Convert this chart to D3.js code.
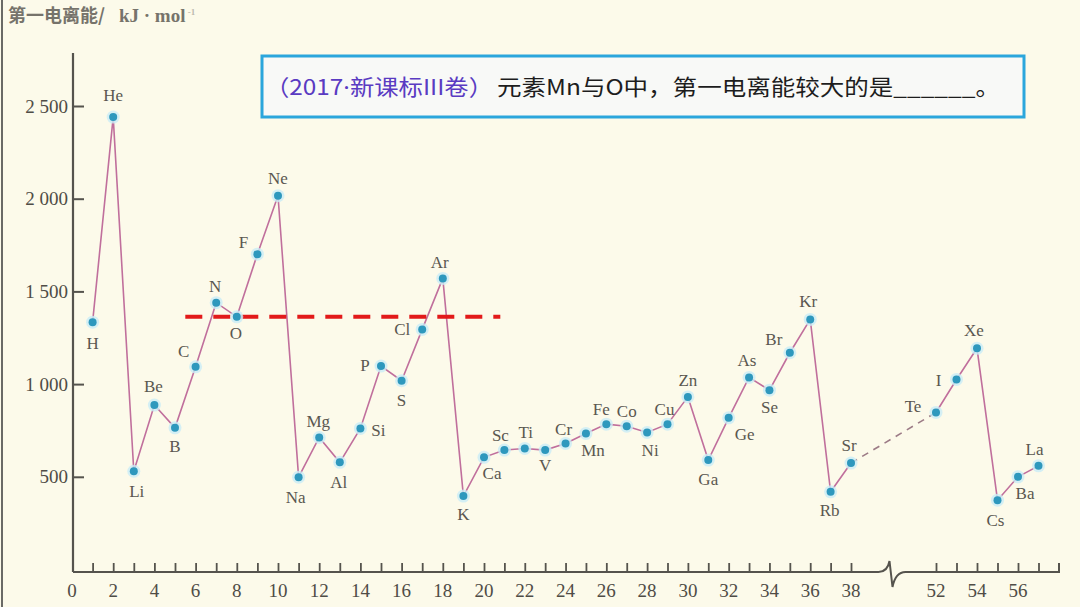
<!DOCTYPE html>
<html>
<head>
<meta charset="utf-8">
<script src="https://d3js.org/d3.v7.min.js"></script>
<style>
  html, body { margin: 0; padding: 0; background: #fcfaea; }
  svg { display: block; }
</style>
</head>
<body>
<div id="chart"></div>
<script>
// element symbols, atomic numbers and first ionization energies (kJ/mol)
const symbols = ["H","He","Li","Be","B","C","N","O","F","Ne",
                 "Na","Mg","Al","Si","P","S","Cl","Ar",
                 "K","Ca","Sc","Ti","V","Cr","Mn","Fe","Co","Ni","Cu","Zn","Ga","Ge","As","Se","Br","Kr",
                 "Rb","Sr","Te","I","Xe","Cs","Ba","La"];
const numbers = [1,2,3,4,5,6,7,8,9,10,
                 11,12,13,14,15,16,17,18,
                 19,20,21,22,23,24,25,26,27,28,29,30,31,32,33,34,35,36,
                 37,38,52,53,54,55,56,57];
const energies = [1334,2440,530,887,764,1093,1439,1363,1701,2016,
                  498,712,578,761,1097,1018,1295,1570,
                  396,605,644,653,644,680,734,784,773,739,784,931,590,818,1036,967,1169,1349,
                  419,574,847,1025,1193,374,500,559];

const xTickValues = [1,2,3,4,5,6,7,8,9,10,11,12,13,14,15,16,17,18,19,20,21,22,23,24,25,26,27,28,29,30,
                     31,32,33,34,35,36,37,38,52,53,54,55,56,57];
const xTickLabels = [0,2,4,6,8,10,12,14,16,18,20,22,24,26,28,30,32,34,36,38,52,54,56];
const yTickValues = [500,1000,1500,2000,2500];

// red dashed reference line (level of O), spans atomic number range
const refValue = 1363;
const refFrom = 5.5;
const refTo = 20.8;

const yTitleCn = "第一电离能/";
const yTitleUnit = "kJ · mol";
const qPrefix = ["（2017", "·", "新课标III卷）"];
const qText = "元素Mn与O中，第一电离能较大的是______。";

const W = 1080, H = 607;

const svg = d3.select("#chart").append("svg")
  .attr("width", W).attr("height", H);

svg.append("rect").attr("width", W).attr("height", H).attr("fill", "#fcfaea");
// left edge of the scanned page
svg.append("line").attr("x1", 2).attr("x2", 2).attr("y1", 0).attr("y2", H)
  .attr("stroke", "#6a6a66").attr("stroke-width", 2);

// scales: broken x axis between 38 and 52
const x = d3.scaleLinear()
  .domain([0, 20, 38, 52, 58])
  .range([72, 484, 851, 936, 1059]);
const y = d3.scaleLinear()
  .domain([0, 2500])
  .range([569.5, 106]);

const axisColor = "#55534d";
const labelColor = "#4f4c46";
const serif = "'Liberation Serif', 'DejaVu Serif', serif";
const axisY = 572;

// y axis
const yAxis = d3.axisLeft(y)
  .tickValues(yTickValues)
  .tickSize(-11)
  .tickPadding(5)
  .tickFormat(d => d3.format(",")(d).replace(",", " "));
const gy = svg.append("g").attr("transform", "translate(73,0)").call(yAxis);
gy.select(".domain").remove();
gy.selectAll(".tick line").attr("stroke", axisColor).attr("stroke-width", 2);
gy.selectAll(".tick text")
  .attr("fill", labelColor)
  .style("font-family", serif)
  .style("font-size", "19px");
svg.append("line")
  .attr("x1", 73).attr("x2", 73).attr("y1", 53).attr("y2", axisY)
  .attr("stroke", axisColor).attr("stroke-width", 2.2);

// x axis ticks (point up)
const xAxis = d3.axisBottom(x)
  .tickValues(xTickValues)
  .tickSize(-9)
  .tickFormat("");
const gx = svg.append("g").attr("transform", `translate(0,${axisY})`).call(xAxis);
gx.select(".domain").remove();
gx.selectAll(".tick line").attr("stroke", axisColor).attr("stroke-width", 1.8);

// x tick labels
svg.append("g").selectAll("text")
  .data(xTickLabels)
  .join("text")
  .attr("x", d => x(d))
  .attr("y", axisY + 25)
  .attr("text-anchor", "middle")
  .attr("fill", labelColor)
  .style("font-family", serif)
  .style("font-size", "19px")
  .text(d => d);

// x axis line with the break mark
const bx = (x(38) + x(52)) / 2 - 2;
const p = d3.path();
p.moveTo(73, axisY);
p.lineTo(bx - 13, axisY);
p.quadraticCurveTo(bx - 4, axisY, bx - 2, axisY - 11);
p.lineTo(bx + 1, axisY + 15);
p.quadraticCurveTo(bx + 4, axisY, bx + 14, axisY);
p.lineTo(x(58), axisY);
p.lineTo(x(58), axisY - 9);
svg.append("path").attr("d", p.toString())
  .attr("fill", "none").attr("stroke", axisColor).attr("stroke-width", 2);

// y title
const title = svg.append("text")
  .attr("x", 8).attr("y", 22)
  .attr("fill", "#76736b")
  .style("font-weight", "bold");
title.append("tspan")
  .style("font-family", "'Noto Sans CJK SC', sans-serif")
  .style("font-size", "18px")
  .text(yTitleCn);
title.append("tspan")
  .attr("dx", 14)
  .style("font-family", serif)
  .style("font-size", "19px")
  .text(yTitleUnit);
title.append("tspan")
  .attr("dy", -7)
  .style("font-family", serif)
  .style("font-size", "9px")
  .attr("fill", "#bdbab0")
  .text(" -1");

// data
const pts = numbers.map((n, i) => ({ n, v: energies[i], s: symbols[i] }));
const partA = pts.filter(d => d.n <= 38);
const partB = pts.filter(d => d.n >= 52);
const bridge = [partA[partA.length - 1], partB[0]];

const line = d3.line().x(d => x(d.n)).y(d => y(d.v));
const lineColor = "#c06f9c";

svg.append("path").datum(partA).attr("d", line)
  .attr("fill", "none").attr("stroke", lineColor).attr("stroke-width", 1.6);
svg.append("path").datum(partB).attr("d", line)
  .attr("fill", "none").attr("stroke", lineColor).attr("stroke-width", 1.6);
svg.append("path").datum(bridge).attr("d", line)
  .attr("fill", "none").attr("stroke", "#9c7b86").attr("stroke-width", 1.6)
  .attr("stroke-dasharray", "7,6");

// red dashed reference line
svg.append("line")
  .attr("x1", x(refFrom)).attr("x2", x(refTo))
  .attr("y1", y(refValue)).attr("y2", y(refValue))
  .attr("stroke", "#e21a1a").attr("stroke-width", 4)
  .attr("stroke-dasharray", "17,11");

// points
svg.append("g").selectAll("circle")
  .data(pts).join("circle")
  .attr("cx", d => x(d.n)).attr("cy", d => y(d.v))
  .attr("r", 6.5).attr("fill", "#c9ecf6").attr("opacity", 0.8);
svg.append("g").selectAll("circle")
  .data(pts).join("circle")
  .attr("cx", d => x(d.n)).attr("cy", d => y(d.v))
  .attr("r", 4).attr("fill", "#2e98bd");

// label offsets (layout only)
const off = {
  H:[0,21], He:[0,-22], Li:[3,20], Be:[-1,-19], B:[0,19], C:[-12,-15], N:[-1,-16], O:[-1,17],
  F:[-14,-12], Ne:[0,-17], Na:[-3,20], Mg:[-1,-16], Al:[-1,20], Si:[18,2], P:[-16,-1],
  S:[0,20], Cl:[-20,0], Ar:[-3,-16], K:[0,18], Ca:[8,16], Sc:[-4,-15], Ti:[1,-16],
  V:[0,15], Cr:[-2,-14], Mn:[7,17], Fe:[-5,-15], Co:[0,-15], Ni:[3,18], Cu:[-3,-15],
  Zn:[0,-16], Ga:[0,19], Ge:[16,17], As:[-2,-17], Se:[0,17], Br:[-16,-13], Kr:[-2,-18],
  Rb:[-1,19], Sr:[-2,-18], Te:[-23,-6], I:[-18,1], Xe:[-3,-18], Cs:[-2,20], Ba:[7,17], La:[-4,-16]
};

svg.append("g").selectAll("text")
  .data(pts).join("text")
  .attr("x", d => x(d.n) + off[d.s][0])
  .attr("y", d => y(d.v) + off[d.s][1])
  .attr("text-anchor", "middle")
  .attr("dominant-baseline", "central")
  .attr("fill", "#5a5750")
  .style("font-family", serif)
  .style("font-size", "17px")
  .text(d => d.s);

// question box
svg.append("rect")
  .attr("x", 262).attr("y", 56).attr("width", 762).attr("height", 61)
  .attr("fill", "#f8f9f7").attr("stroke", "#2ba6dc").attr("stroke-width", 3);
const cjk = "'Noto Sans CJK SC', sans-serif";
const q1 = svg.append("text")
  .attr("x", 265).attr("y", 95)
  .attr("fill", "#5a3bc2")
  .style("font-family", cjk)
  .style("font-size", "22px")
  .attr("textLength", 228).attr("lengthAdjust", "spacingAndGlyphs");
q1.append("tspan").text(qPrefix[0]);
q1.append("tspan").style("font-family", "'Noto Sans', sans-serif").text(qPrefix[1]);
q1.append("tspan").text(qPrefix[2]);
svg.append("text")
  .attr("x", 497).attr("y", 95)
  .attr("fill", "#1d1d1d")
  .style("font-family", cjk)
  .style("font-size", "22px")
  .attr("textLength", 503).attr("lengthAdjust", "spacingAndGlyphs")
  .text(qText);
</script>
</body>
</html>
